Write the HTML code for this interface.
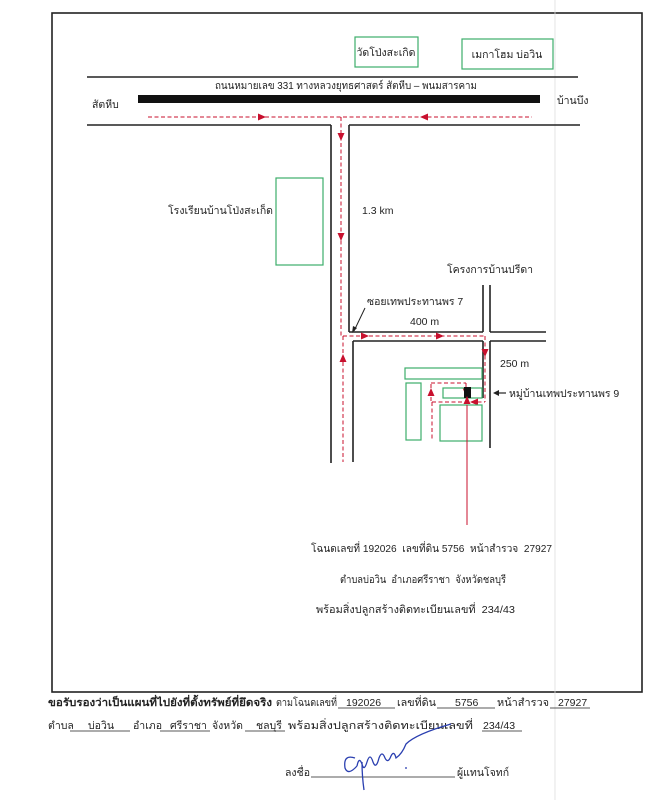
<!DOCTYPE html>
<html><head><meta charset="utf-8"><style>
body{margin:0;background:#fff;}
svg{display:block;}
text{font-family:"Liberation Sans","Noto Sans CJK SC",sans-serif;font-size:10.5px;fill:#222;white-space:pre;}
</style></head><body>
<svg width="657" height="800" viewBox="0 0 657 800" xmlns="http://www.w3.org/2000/svg" xml:space="preserve">
<defs>
<marker id="a" markerWidth="8" markerHeight="8" refX="4" refY="4" orient="auto" markerUnits="userSpaceOnUse"><path d="M0,0.5 L8,4 L0,7.5 z" fill="#c8102e"/></marker>
</defs>
<rect x="52" y="13" width="590" height="679" fill="none" stroke="#222" stroke-width="1.6"/>
<line x1="555" y1="0" x2="555" y2="800" stroke="#ddd" stroke-width="0.8"/>
<rect x="355" y="37" width="63" height="30" fill="none" stroke="#3cae6a" stroke-width="1.2"/>
<text x="386" y="56" text-anchor="middle">วัดโป่งสะเกิด</text>
<rect x="462" y="39" width="91" height="30" fill="none" stroke="#3cae6a" stroke-width="1.2"/>
<text x="507" y="58" text-anchor="middle">เมกาโฮม บ่อวิน</text>
<line x1="87" y1="77" x2="578" y2="77" stroke="#222" stroke-width="1.6"/>
<text x="215" y="89" textLength="262" lengthAdjust="spacingAndGlyphs">ถนนหมายเลข 331 ทางหลวงยุทธศาสตร์ สัตหีบ – พนมสารคาม</text>
<rect x="138" y="95" width="402" height="8" fill="#111"/>
<text x="92" y="108">สัตหีบ</text>
<text x="557" y="104">บ้านบึง</text>
<line x1="87" y1="125" x2="331" y2="125" stroke="#222" stroke-width="1.6"/>
<line x1="349" y1="125" x2="580" y2="125" stroke="#222" stroke-width="1.6"/>
<line x1="331" y1="125" x2="331" y2="463" stroke="#222" stroke-width="1.6"/>
<line x1="349" y1="125" x2="349" y2="332" stroke="#222" stroke-width="1.6"/>
<line x1="353" y1="341" x2="353" y2="462" stroke="#222" stroke-width="1.6"/>
<line x1="349" y1="332" x2="483" y2="332" stroke="#222" stroke-width="1.6"/>
<line x1="490" y1="332" x2="546" y2="332" stroke="#222" stroke-width="1.6"/>
<line x1="353" y1="341" x2="483" y2="341" stroke="#222" stroke-width="1.6"/>
<line x1="490" y1="341" x2="546" y2="341" stroke="#222" stroke-width="1.6"/>
<line x1="483" y1="285" x2="483" y2="332" stroke="#222" stroke-width="1.6"/>
<line x1="490" y1="285" x2="490" y2="332" stroke="#222" stroke-width="1.6"/>
<line x1="483" y1="341" x2="483" y2="398" stroke="#222" stroke-width="1.6"/>
<line x1="490" y1="341" x2="490" y2="448" stroke="#222" stroke-width="1.6"/>
<rect x="276" y="178" width="47" height="87" fill="none" stroke="#3cae6a" stroke-width="1.2"/>
<text x="273" y="214" text-anchor="end">โรงเรียนบ้านโป่งสะเก็ด</text>
<text x="362" y="214">1.3 km</text>
<text x="447" y="273">โครงการบ้านปรีดา</text>
<text x="367" y="305">ซอยเทพประทานพร 7</text>
<line x1="365" y1="308" x2="354" y2="331" stroke="#222" stroke-width="1"/>
<path d="M352,333 l1,-7 l4,2 z" fill="#222"/>
<text x="410" y="325">400 m</text>
<text x="500" y="367">250 m</text>
<g stroke="#c8102e" stroke-width="1" stroke-dasharray="4,2.5" fill="none">
<line x1="148" y1="117" x2="532" y2="117"/>
<line x1="341" y1="117" x2="341" y2="336"/>
<line x1="343" y1="336" x2="343" y2="462"/>
<line x1="343" y1="336" x2="485" y2="336"/>
<line x1="485" y1="336" x2="485" y2="402"/>
<line x1="432" y1="402" x2="485" y2="402"/>
<line x1="432" y1="402" x2="432" y2="440"/>
<line x1="431" y1="384" x2="431" y2="402"/>
<line x1="431" y1="383" x2="466" y2="383"/>
<line x1="466" y1="383" x2="466" y2="388"/>
</g>
<g stroke="none">
<line x1="250" y1="117" x2="262" y2="117" marker-end="url(#a)"/>
<line x1="436" y1="117" x2="424" y2="117" marker-end="url(#a)"/>
<line x1="341" y1="125" x2="341" y2="137" marker-end="url(#a)"/>
<line x1="341" y1="225" x2="341" y2="237" marker-end="url(#a)"/>
<line x1="343" y1="370" x2="343" y2="358" marker-end="url(#a)"/>
<line x1="355" y1="336" x2="365" y2="336" marker-end="url(#a)"/>
<line x1="430" y1="336" x2="440" y2="336" marker-end="url(#a)"/>
<line x1="485" y1="345" x2="485" y2="353" marker-end="url(#a)"/>
<line x1="484" y1="402" x2="474" y2="402" marker-end="url(#a)"/>
<line x1="431" y1="400" x2="431" y2="392" marker-end="url(#a)"/>
<line x1="466" y1="383" x2="466" y2="392" marker-end="url(#a)"/>
</g>
<g fill="none" stroke="#3cae6a" stroke-width="1.2">
<rect x="405" y="368" width="77" height="11"/>
<rect x="406" y="383" width="15" height="57"/>
<rect x="443" y="388" width="39" height="10"/>
<rect x="440" y="405" width="42" height="36"/>
</g>
<rect x="464" y="387" width="7" height="11" fill="#111"/>
<line x1="467" y1="525" x2="467" y2="405" stroke="#c8102e" stroke-width="1"/>
<line x1="467" y1="410" x2="467" y2="400" marker-end="url(#a)"/>
<line x1="506" y1="393" x2="497" y2="393" stroke="#222" stroke-width="1.2"/>
<path d="M493,393 l6,-3 v6 z" fill="#222"/>
<text x="509" y="397">หมู่บ้านเทพประทานพร 9</text>
<text x="311" y="552" textLength="241" lengthAdjust="spacingAndGlyphs">โฉนดเลขที่ 192026  เลขที่ดิน 5756  หน้าสำรวจ  27927</text>
<text x="340" y="583" textLength="166" lengthAdjust="spacingAndGlyphs">ตำบลบ่อวิน  อำเภอศรีราชา  จังหวัดชลบุรี</text>
<text x="316" y="613" textLength="199" lengthAdjust="spacingAndGlyphs">พร้อมสิ่งปลูกสร้างติดทะเบียนเลขที่  234/43</text>
<g stroke="#222" stroke-width="0.8">
<line x1="338" y1="708" x2="395" y2="708"/><line x1="437" y1="708" x2="495" y2="708"/><line x1="550" y1="708" x2="590" y2="708"/>
<line x1="70" y1="731" x2="130" y2="731"/><line x1="160" y1="731" x2="210" y2="731"/><line x1="245" y1="731" x2="285" y2="731"/><line x1="482" y1="731" x2="522" y2="731"/>
<line x1="311" y1="777" x2="455" y2="777"/>
</g>
<text x="48" y="706" font-weight="bold" textLength="224" lengthAdjust="spacingAndGlyphs">ขอรับรองว่าเป็นแผนที่ไปยังที่ตั้งทรัพย์ที่ยึดจริง</text>
<text x="276" y="706" textLength="61" lengthAdjust="spacingAndGlyphs">ตามโฉนดเลขที่</text>
<text x="346" y="706">192026</text>
<text x="397" y="706" textLength="39" lengthAdjust="spacingAndGlyphs">เลขที่ดิน</text>
<text x="455" y="706">5756</text>
<text x="497" y="706" textLength="52" lengthAdjust="spacingAndGlyphs">หน้าสำรวจ</text>
<text x="558" y="706">27927</text>
<text x="48" y="729">ตำบล</text>
<text x="88" y="729">บ่อวิน</text>
<text x="133" y="729">อำเภอ</text>
<text x="170" y="729">ศรีราชา</text>
<text x="212" y="729">จังหวัด</text>
<text x="256" y="729">ชลบุรี</text>
<text x="288" y="729" textLength="185" lengthAdjust="spacingAndGlyphs">พร้อมสิ่งปลูกสร้างติดทะเบียนเลขที่</text>
<text x="483" y="729">234/43</text>
<text x="285" y="776">ลงชื่อ</text>
<text x="457" y="776">ผู้แทนโจทก์</text>
<path d="M355,758 q-12,-4 -10,10 q3,8 12,-2 M357,766 q2,-10 5,-2 q2,8 5,-2 q3,-10 6,0 q3,8 6,-4 q3,-8 6,0 q3,6 6,-2 q3,-6 5,2 q6,-4 10,-14 q10,-10 45,-20 M362,762 q0,14 2,28 M405,768 l2,0" fill="none" stroke="#2a3fb0" stroke-width="1.3"/>
</svg>
</body></html>
